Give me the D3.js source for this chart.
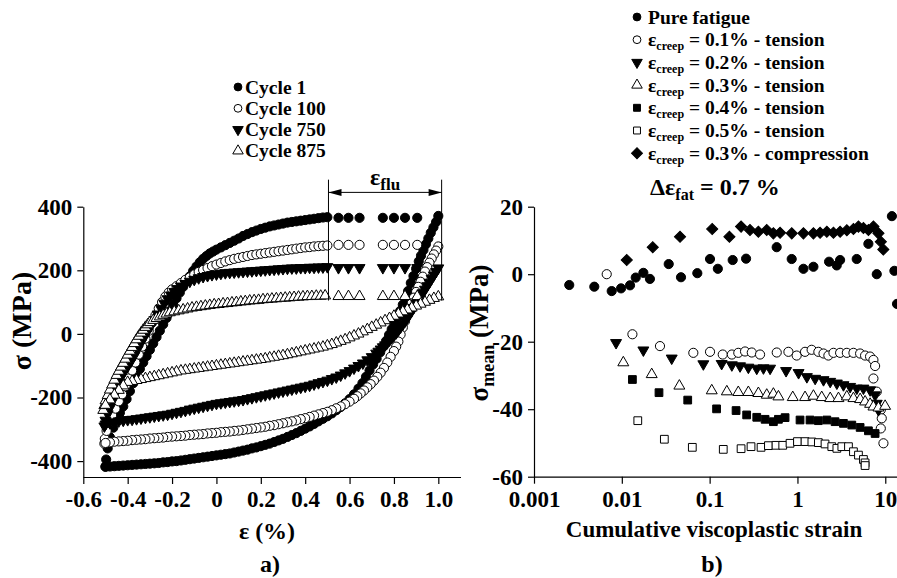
<!DOCTYPE html>
<html>
<head>
<meta charset="utf-8">
<script src="https://cdn.jsdelivr.net/npm/d3@7"></script>
<style>
  body { margin: 0; background: #fff; }
  svg text { font-family: "Liberation Serif", "Times New Roman", serif; fill: #000; font-weight: bold; }
  .axis path, .axis line { stroke: #000; stroke-width: 1.2; }
  .axis text { font-size: 23px; }
  .legend text { font-size: 19.5px; }
</style>
</head>
<body>
<svg id="chart" width="897" height="578"></svg>
<script>
// ---- panel a) : hysteresis loops, [strain %, stress MPa] ----
var cycleNames = ["Cycle 1", "Cycle 100", "Cycle 750", "Cycle 875"];

var c1Load = [[-0.5,-417],[-0.497,-395],[-0.49,-360],[-0.48,-325],[-0.465,-295],[-0.45,-270],[-0.435,-248],[-0.42,-228],[-0.405,-205],[-0.39,-180],[-0.375,-155],[-0.36,-132],[-0.345,-110],[-0.33,-90],[-0.315,-70],[-0.3,-50],[-0.285,-30],[-0.27,-10],[-0.255,10],[-0.24,30],[-0.225,50],[-0.21,72],[-0.195,92],[-0.18,112],[-0.165,130],[-0.15,148],[-0.135,165],[-0.12,181],[-0.105,198],[-0.09,212],[-0.075,225],[-0.06,236],[-0.045,245],[-0.03,253],[-0.015,259],[0,265],[0.02,272],[0.04,279],[0.06,286],[0.08,293],[0.1,300],[0.12,308],[0.14,314],[0.16,320],[0.18,325],[0.2,330],[0.22,334],[0.24,338],[0.26,341],[0.28,344],[0.3,347],[0.32,350],[0.34,352],[0.36,354],[0.38,356],[0.4,358],[0.42,360],[0.44,362],[0.46,364],[0.48,366],[0.5,367]];
var c1Unload = [[1.0,371],[0.99,352],[0.978,335],[0.966,318],[0.955,300],[0.944,282],[0.933,264],[0.922,246],[0.912,228],[0.9,205],[0.888,182],[0.876,160],[0.864,135],[0.852,112],[0.84,92],[0.828,72],[0.815,52],[0.802,33],[0.79,15],[0.778,-3],[0.765,-22],[0.752,-40],[0.738,-58],[0.722,-78],[0.706,-96],[0.69,-115],[0.674,-135],[0.658,-155],[0.64,-172],[0.62,-190],[0.6,-205],[0.58,-218],[0.56,-230],[0.54,-240],[0.52,-250],[0.5,-259],[0.48,-267],[0.46,-275],[0.44,-283],[0.42,-291],[0.4,-298],[0.38,-305],[0.36,-312],[0.34,-318],[0.32,-324],[0.3,-330],[0.28,-335],[0.26,-340],[0.24,-345],[0.22,-349],[0.2,-353],[0.18,-357],[0.16,-360],[0.14,-364],[0.12,-367],[0.1,-370],[0.08,-373],[0.06,-376],[0.04,-378],[0.02,-380],[0,-382],[-0.02,-384],[-0.04,-386],[-0.06,-388],[-0.08,-390],[-0.1,-392],[-0.12,-394],[-0.14,-396],[-0.16,-398],[-0.18,-400],[-0.2,-401],[-0.22,-403],[-0.24,-404],[-0.26,-406],[-0.28,-407],[-0.3,-408],[-0.32,-409],[-0.34,-410],[-0.36,-411],[-0.38,-412],[-0.4,-413],[-0.42,-414],[-0.44,-415],[-0.46,-416],[-0.48,-417],[-0.5,-418]];

var c100Load = [[-0.505,-345],[-0.503,-330],[-0.495,-305],[-0.485,-280],[-0.47,-255],[-0.455,-235],[-0.44,-212],[-0.425,-190],[-0.41,-165],[-0.395,-140],[-0.38,-115],[-0.365,-90],[-0.35,-65],[-0.335,-40],[-0.32,-15],[-0.305,10],[-0.29,35],[-0.275,58],[-0.26,80],[-0.245,100],[-0.23,117],[-0.215,130],[-0.2,140],[-0.18,150],[-0.16,160],[-0.14,170],[-0.12,178],[-0.1,187],[-0.08,195],[-0.06,201],[-0.04,207],[-0.02,213],[0,218],[0.02,223],[0.04,228],[0.06,232],[0.08,236],[0.1,239],[0.12,242],[0.14,245],[0.16,248],[0.18,250],[0.2,252],[0.22,254],[0.24,256],[0.26,258],[0.28,260],[0.3,262],[0.32,264],[0.34,266],[0.36,268],[0.38,270],[0.4,272],[0.42,273],[0.44,275],[0.46,276],[0.48,277],[0.5,278]];
var c100Unload = [[1.0,275],[0.99,262],[0.98,250],[0.97,237],[0.96,224],[0.95,210],[0.94,196],[0.93,180],[0.92,164],[0.91,148],[0.9,132],[0.89,114],[0.88,96],[0.87,78],[0.86,60],[0.85,40],[0.84,20],[0.83,-2],[0.82,-24],[0.81,-40],[0.8,-54],[0.785,-72],[0.77,-90],[0.755,-107],[0.74,-122],[0.725,-135],[0.71,-147],[0.695,-158],[0.68,-168],[0.665,-178],[0.65,-187],[0.635,-196],[0.62,-204],[0.6,-213],[0.58,-221],[0.56,-228],[0.54,-234],[0.52,-240],[0.5,-245],[0.48,-249],[0.46,-253],[0.44,-257],[0.42,-261],[0.4,-265],[0.38,-268],[0.36,-272],[0.34,-275],[0.32,-278],[0.3,-281],[0.28,-284],[0.26,-287],[0.24,-289],[0.22,-292],[0.2,-294],[0.18,-296],[0.16,-298],[0.14,-300],[0.12,-302],[0.1,-304],[0.08,-305],[0.06,-307],[0.04,-308],[0.02,-309],[0,-311],[-0.02,-312],[-0.04,-313],[-0.06,-315],[-0.08,-316],[-0.1,-317],[-0.12,-318],[-0.14,-320],[-0.16,-321],[-0.18,-322],[-0.2,-323],[-0.22,-324],[-0.24,-326],[-0.26,-327],[-0.28,-328],[-0.3,-329],[-0.32,-331],[-0.34,-332],[-0.36,-333],[-0.38,-334],[-0.4,-336],[-0.42,-337],[-0.44,-338],[-0.46,-339],[-0.48,-341],[-0.5,-343]];

var c750Load = [[-0.505,-290],[-0.5,-272],[-0.49,-252],[-0.48,-232],[-0.47,-212],[-0.46,-192],[-0.45,-172],[-0.44,-153],[-0.43,-136],[-0.415,-118],[-0.4,-102],[-0.385,-86],[-0.37,-68],[-0.355,-48],[-0.34,-28],[-0.325,-10],[-0.31,8],[-0.295,26],[-0.28,44],[-0.265,62],[-0.25,80],[-0.235,96],[-0.22,110],[-0.205,122],[-0.19,133],[-0.175,142],[-0.16,150],[-0.14,158],[-0.12,165],[-0.1,171],[-0.08,176],[-0.06,180],[-0.04,183],[-0.02,186],[0,188],[0.02,190],[0.04,192],[0.06,193],[0.08,194],[0.1,195],[0.12,196],[0.14,197],[0.16,198],[0.18,199],[0.2,200],[0.22,201],[0.24,202],[0.26,203],[0.28,204],[0.3,205],[0.32,206],[0.34,207],[0.36,207],[0.38,208],[0.4,208],[0.42,209],[0.44,209],[0.46,210],[0.48,210],[0.5,211]];
var c750Unload = [[1.0,207],[0.99,196],[0.98,185],[0.97,174],[0.96,162],[0.95,151],[0.94,140],[0.93,129],[0.92,118],[0.91,106],[0.9,95],[0.89,83],[0.88,72],[0.87,61],[0.86,50],[0.85,40],[0.84,30],[0.83,21],[0.82,12],[0.81,3],[0.8,-5],[0.79,-12],[0.78,-20],[0.77,-28],[0.76,-35],[0.75,-41],[0.74,-48],[0.73,-55],[0.72,-61],[0.7,-72],[0.68,-82],[0.66,-92],[0.64,-100],[0.62,-108],[0.6,-116],[0.58,-123],[0.56,-130],[0.54,-136],[0.52,-141],[0.5,-146],[0.48,-150],[0.46,-154],[0.44,-158],[0.42,-162],[0.4,-165],[0.38,-168],[0.36,-171],[0.34,-174],[0.32,-177],[0.3,-180],[0.28,-183],[0.26,-186],[0.24,-189],[0.22,-192],[0.2,-195],[0.18,-198],[0.16,-201],[0.14,-204],[0.12,-207],[0.1,-209],[0.08,-211],[0.06,-213],[0.04,-215],[0.02,-217],[0,-219],[-0.02,-222],[-0.04,-225],[-0.06,-228],[-0.08,-231],[-0.1,-234],[-0.12,-237],[-0.14,-241],[-0.16,-244],[-0.18,-247],[-0.2,-250],[-0.22,-253],[-0.24,-255],[-0.26,-257],[-0.28,-259],[-0.3,-261],[-0.32,-263],[-0.34,-265],[-0.36,-267],[-0.38,-269],[-0.4,-270],[-0.42,-272],[-0.44,-274],[-0.46,-277],[-0.48,-280],[-0.5,-284]];

var c875Load = [[-0.51,-240],[-0.505,-225],[-0.5,-210],[-0.49,-193],[-0.48,-176],[-0.47,-160],[-0.46,-145],[-0.45,-130],[-0.44,-117],[-0.43,-104],[-0.42,-92],[-0.41,-79],[-0.4,-66],[-0.39,-54],[-0.38,-42],[-0.37,-30],[-0.36,-18],[-0.35,-7],[-0.34,3],[-0.33,12],[-0.32,21],[-0.31,29],[-0.3,36],[-0.285,43],[-0.27,49],[-0.255,54],[-0.24,59],[-0.225,63],[-0.21,67],[-0.19,70],[-0.17,73],[-0.15,76],[-0.13,79],[-0.11,82],[-0.09,84],[-0.07,86],[-0.05,88],[-0.03,90],[-0.01,92],[0.01,93],[0.03,95],[0.05,96],[0.07,98],[0.09,99],[0.11,101],[0.13,102],[0.15,104],[0.17,105],[0.19,106],[0.21,108],[0.23,109],[0.25,110],[0.27,111],[0.29,112],[0.31,113],[0.33,114],[0.35,115],[0.37,116],[0.39,117],[0.41,118],[0.43,118],[0.45,119],[0.47,119],[0.49,120]];
var c875Unload = [[1.0,117],[0.98,112],[0.96,106],[0.94,100],[0.92,94],[0.9,88],[0.88,82],[0.86,76],[0.84,70],[0.82,63],[0.8,56],[0.78,49],[0.76,42],[0.74,35],[0.72,28],[0.7,21],[0.68,14],[0.66,7],[0.64,0],[0.62,-6],[0.6,-12],[0.58,-18],[0.56,-23],[0.54,-28],[0.52,-33],[0.5,-37],[0.48,-41],[0.46,-44],[0.44,-47],[0.42,-50],[0.4,-53],[0.38,-56],[0.36,-59],[0.34,-62],[0.32,-65],[0.3,-68],[0.28,-70],[0.26,-73],[0.24,-75],[0.22,-78],[0.2,-80],[0.18,-82],[0.16,-84],[0.14,-86],[0.12,-88],[0.1,-90],[0.08,-92],[0.06,-94],[0.04,-96],[0.02,-98],[0,-100],[-0.02,-102],[-0.04,-104],[-0.06,-106],[-0.08,-108],[-0.1,-110],[-0.12,-112],[-0.14,-114],[-0.16,-116],[-0.18,-119],[-0.2,-122],[-0.22,-125],[-0.24,-128],[-0.26,-131],[-0.28,-134],[-0.3,-137],[-0.32,-140],[-0.34,-143],[-0.36,-146],[-0.38,-149],[-0.4,-152],[-0.42,-163],[-0.44,-177],[-0.46,-192],[-0.48,-207],[-0.5,-224]];

// creep (flu) segment: same strains for every cycle, stress per cycle
var holdStrain = [0.55, 0.595, 0.645, 0.75, 0.8, 0.85, 0.905];
var holdStress = [365, 280, 208, 118];
var fluRange = [0.505, 1.015];

var leftXTicks = [-0.6, -0.4, -0.2, 0, 0.2, 0.4, 0.6, 0.8, 1.0];
var leftXLabels = ["-0.6", "-0.4", "-0.2", "0", "0.2", "0.4", "0.6", "0.8", "1.0"];
var leftYTicks = [-400, -200, 0, 200, 400];

// ---- panel b) : mean stress vs cumulative viscoplastic strain ----
var seriesNames = ["Pure fatigue", "0.1% - tension", "0.2% - tension", "0.3% - tension", "0.4% - tension", "0.5% - tension", "0.3% - compression"];

var pureFatigue = [[0.00252,-3.2],[0.00486,-3.7],[0.00767,-5.0],[0.0098,-4.2],[0.0124,-3.3],[0.0144,-1.0],[0.0176,0.4],[0.0209,-1.4],[0.0342,3.0],[0.0472,-0.9],[0.0724,0.3],[0.101,4.5],[0.124,1.6],[0.183,4.2],[0.26,4.6],[0.58,8.0],[0.86,4.5],[1.17,1.6],[1.52,2.2],[2.29,3.7],[2.8,2.6],[3.06,4.2],[4.73,4.5],[6.42,9.0],[8.0,0],[11.9,17.2],[12.7,1.0],[13.6,-8.8]];
var tension01 = [[0.00673,0],[0.0132,-17.8],[0.0272,-21.3],[0.0652,-23.3],[0.101,-23.0],[0.141,-23.8],[0.179,-23.8],[0.212,-23.3],[0.253,-22.9],[0.302,-23.2],[0.375,-23.8],[0.581,-23.2],[0.789,-23.0],[0.98,-24.1],[1.22,-23.0],[1.45,-22.4],[1.73,-23.0],[1.98,-23.5],[2.25,-24.1],[2.57,-23.3],[3.06,-23.3],[3.65,-23.3],[4.34,-23.3],[5.17,-23.5],[5.89,-24.1],[6.71,-24.4],[7.33,-25.4],[7.66,-27.2],[7.33,-30.9],[8.0,-34.8],[8.89,-40.2],[9.12,-42.7],[8.89,-45.7],[9.53,-50.1]];
var tension02 = [[0.0086,-20.3],[0.0176,-22.5],[0.037,-24.9],[0.0848,-26.6],[0.137,-26.5],[0.179,-26.9],[0.222,-27.2],[0.276,-27.6],[0.344,-27.9],[0.41,-27.8],[0.488,-27.9],[0.742,-28.6],[1.03,-29.2],[1.28,-30.4],[1.59,-30.9],[1.98,-31.3],[2.36,-31.8],[2.81,-32.3],[3.34,-32.8],[3.98,-33.3],[4.74,-33.8],[5.64,-33.8],[6.72,-34.3],[7.66,-35.8],[8.0,-38.3],[8.36,-40.2]];
var tension03 = [[0.0104,-26.2],[0.0219,-29.7],[0.0452,-33.1],[0.1057,-34.5],[0.157,-34.8],[0.212,-35.0],[0.276,-35.0],[0.359,-35.3],[0.447,-35.8],[0.532,-35.5],[0.607,-36.3],[0.884,-36.5],[1.22,-36.5],[1.52,-36.1],[1.89,-36.5],[2.36,-36.8],[2.93,-36.8],[3.65,-36.3],[4.34,-36.8],[5.17,-37.1],[5.89,-37.8],[6.72,-38.5],[7.33,-39.3],[8.36,-39.6],[9.96,-39.1]];
var tension04 = [[0.0132,-31.2],[0.0265,-35.1],[0.0563,-37.3],[0.12,-39.9],[0.2,-40.4],[0.264,-41.7],[0.344,-42.4],[0.428,-43.0],[0.532,-43.7],[0.607,-43.0],[0.723,-42.5],[1.07,-43.2],[1.39,-43.2],[1.73,-43.4],[2.16,-43.2],[2.68,-43.7],[3.34,-44.2],[4.16,-44.7],[5.17,-45.4],[6.43,-46.4],[7.66,-47.2]];
var tension05 = [[0.0152,-43.4],[0.0305,-48.9],[0.0635,-51.3],[0.143,-51.9],[0.228,-51.7],[0.296,-51.1],[0.385,-51.3],[0.467,-50.8],[0.57,-50.7],[0.68,-50.7],[0.823,-50.1],[1.0,-49.6],[1.22,-49.6],[1.46,-49.7],[1.73,-49.9],[2.06,-50.3],[2.46,-51.1],[2.81,-51.6],[3.2,-51.1],[3.81,-51.1],[4.34,-52.6],[4.95,-53.6],[5.64,-54.9],[5.89,-55.9],[5.89,-56.7]];
var compression03 = [[0.01138,4.2],[0.0225,8.0],[0.046,11.1],[0.107,13.4],[0.168,11.1],[0.228,14.1],[0.288,13.1],[0.359,12.6],[0.447,13.1],[0.532,12.1],[0.634,12.3],[0.861,12.1],[1.17,12.1],[1.52,12.1],[1.81,12.3],[2.16,12.6],[2.57,12.3],[3.06,12.6],[3.65,13.0],[4.34,13.4],[4.95,14.1],[5.64,13.7],[6.43,13.1],[7.33,14.1],[8.36,12.1],[8.9,9.6],[9.5,7.3]];

var rightXTicks = [0.001, 0.01, 0.1, 1, 10];
var rightXLabels = ["0.001", "0.01", "0.1", "1", "10"];
var rightYTicks = [20, 0, -20, -40, -60];

// ---- setup ----
var svg = d3.select("#chart");

var xL = d3.scaleLinear().domain([-0.6, 1.1]).range([83.3, 460.5]);
var yL = d3.scaleLinear().domain([-450, 400]).range([477, 206.7]);

var xR = d3.scaleLog().domain([0.001, 13.6]).range([534, 897]);
var yR = d3.scaleLinear().domain([-60, 20]).range([476.7, 206.7]);

function symbolPath(kind, size) {
    var map = {
        circle: d3.symbolCircle,
        triUp: d3.symbolTriangle,
        triDown: d3.symbolTriangle,
        square: d3.symbolSquare,
        diamond: d3.symbolSquare
    };
    return d3.symbol(map[kind], size)();
}

function symbolRotation(kind) {
    if (kind === "triDown") return " rotate(180)";
    if (kind === "diamond") return " rotate(45)";
    return "";
}

var shapeSize = { circle: 66, triUp: 52, triDown: 52, square: 60, diamond: 62 };

function drawMarkers(g, data, x, y, kind, filled) {
    g.selectAll(null)
        .data(data)
        .enter()
        .append("path")
        .attr("d", symbolPath(kind, shapeSize[kind]))
        .attr("transform", d => "translate(" + x(d[0]) + "," + y(d[1]) + ")" + symbolRotation(kind))
        .attr("fill", filled ? "#000" : "#fff")
        .attr("stroke", "#000")
        .attr("stroke-width", 1);
}

// ---- panel a) ----
var cycleStyle = [
    { kind: "circle", filled: true },
    { kind: "circle", filled: false },
    { kind: "triDown", filled: true },
    { kind: "triUp", filled: false }
];
var cycleData = [
    [c1Load, c1Unload], [c100Load, c100Unload], [c750Load, c750Unload], [c875Load, c875Unload]
];

// axes
var leftX = d3.axisBottom(xL)
    .tickValues(leftXTicks)
    .tickFormat((d, i) => leftXLabels[i])
    .tickSize(7).tickSizeOuter(0).tickPadding(7);
svg.append("g").attr("class", "axis")
    .attr("transform", "translate(0," + yL(-450) + ")")
    .call(leftX);

var leftY = d3.axisLeft(yL)
    .tickValues(leftYTicks)
    .tickFormat(d => String(d))
    .tickSize(6).tickSizeOuter(0).tickPadding(5);
svg.append("g").attr("class", "axis")
    .attr("transform", "translate(" + xL(-0.6) + ",0)")
    .call(leftY);

var gA = svg.append("g");
cycleData.forEach(function(branches, i) {
    var st = cycleStyle[i];
    var hold = holdStrain.map(s => [s, holdStress[i]]);
    drawMarkers(gA, branches[0], xL, yL, st.kind, st.filled);
    drawMarkers(gA, hold, xL, yL, st.kind, st.filled);
    drawMarkers(gA, branches[1], xL, yL, st.kind, st.filled);
});

// eps_flu bracket
var fluTop = 485, fluBottom = 105, fluArrow = 445;
fluRange.forEach(function(s) {
    svg.append("line")
        .attr("x1", xL(s)).attr("x2", xL(s))
        .attr("y1", yL(fluTop)).attr("y2", yL(fluBottom))
        .attr("stroke", "#000").attr("stroke-width", 1);
});
svg.append("line")
    .attr("x1", xL(fluRange[0])).attr("x2", xL(fluRange[1]))
    .attr("y1", yL(fluArrow)).attr("y2", yL(fluArrow))
    .attr("stroke", "#000").attr("stroke-width", 1);
[[fluRange[0], 1], [fluRange[1], -1]].forEach(function(a) {
    var x0 = xL(a[0]), y0 = yL(fluArrow), dir = a[1];
    svg.append("path")
        .attr("d", "M" + x0 + "," + y0 + "L" + (x0 + dir * 13) + "," + (y0 - 3.5) + "L" + (x0 + dir * 13) + "," + (y0 + 3.5) + "Z")
        .attr("fill", "#000");
});
var fluLabel = svg.append("text")
    .attr("x", (xL(fluRange[0]) + xL(fluRange[1])) / 2)
    .attr("y", yL(fluArrow) - 7)
    .attr("text-anchor", "middle")
    .style("font-size", "24px");
fluLabel.append("tspan").text("ε");
fluLabel.append("tspan").attr("dy", 5).style("font-size", "17px").text("flu");

// legend a)
var legA = svg.append("g").attr("class", "legend");
cycleNames.forEach(function(name, i) {
    var yy = 87 + i * 21.3;
    var st = cycleStyle[i];
    legA.append("path")
        .attr("d", symbolPath(st.kind, 48))
        .attr("transform", "translate(238," + yy + ")" + symbolRotation(st.kind))
        .attr("fill", st.filled ? "#000" : "#fff")
        .attr("stroke", "#000");
    legA.append("text").attr("x", 245).attr("y", yy + 6.5).text(name);
});

// axis titles a)
svg.append("text")
    .attr("transform", "translate(31,321) rotate(-90)")
    .attr("text-anchor", "middle")
    .style("font-size", "28px")
    .text("σ (MPa)");
svg.append("text")
    .attr("x", 267).attr("y", 539)
    .attr("text-anchor", "middle")
    .style("font-size", "24px")
    .text("ε (%)");
svg.append("text")
    .attr("x", 270).attr("y", 572)
    .attr("text-anchor", "middle")
    .style("font-size", "24px")
    .text("a)");

// ---- panel b) ----
var rightX = d3.axisBottom(xR)
    .tickValues(rightXTicks)
    .tickFormat((d, i) => rightXLabels[i])
    .tickSize(7).tickSizeOuter(0).tickPadding(7);
svg.append("g").attr("class", "axis")
    .attr("transform", "translate(0," + yR(-60) + ")")
    .call(rightX);

var rightY = d3.axisLeft(yR)
    .tickValues(rightYTicks)
    .tickFormat(d => String(d))
    .tickSize(6).tickSizeOuter(0).tickPadding(5);
svg.append("g").attr("class", "axis")
    .attr("transform", "translate(" + xR(0.001) + ",0)")
    .call(rightY);

var seriesStyle = [
    { kind: "circle", filled: true },
    { kind: "circle", filled: false },
    { kind: "triDown", filled: true },
    { kind: "triUp", filled: false },
    { kind: "square", filled: true },
    { kind: "square", filled: false },
    { kind: "diamond", filled: true }
];
var seriesData = [pureFatigue, tension01, tension02, tension03, tension04, tension05, compression03];

var gB = svg.append("g");
seriesData.forEach(function(d, i) {
    drawMarkers(gB, d, xR, yR, seriesStyle[i].kind, seriesStyle[i].filled);
});

// legend b)
var legB = svg.append("g").attr("class", "legend");
seriesNames.forEach(function(name, i) {
    var yy = 17 + i * 22.7;
    var st = seriesStyle[i];
    legB.append("path")
        .attr("d", symbolPath(st.kind, st.kind === "diamond" ? 60 : 48))
        .attr("transform", "translate(637," + yy + ")" + symbolRotation(st.kind))
        .attr("fill", st.filled ? "#000" : "#fff")
        .attr("stroke", "#000");
    var t = legB.append("text").attr("x", 648).attr("y", yy + 6.5);
    if (i === 0) {
        t.text(name);
    } else {
        t.append("tspan").text("ε");
        t.append("tspan").attr("dy", 4).style("font-size", "12px").text("creep");
        t.append("tspan").attr("dy", -4).text(" = " + name);
    }
});

var fat = svg.append("text")
    .attr("x", 650).attr("y", 195)
    .style("font-size", "24px");
fat.append("tspan").text("Δε");
fat.append("tspan").attr("dy", 5).style("font-size", "16px").text("fat");
fat.append("tspan").attr("dy", -5).text(" = 0.7 %");

svg.append("text")
    .attr("transform", "translate(488,333) rotate(-90)")
    .attr("text-anchor", "middle")
    .style("font-size", "27px")
    .call(function(t) {
        t.append("tspan").text("σ");
        t.append("tspan").attr("dy", 6).style("font-size", "18px").text("mean");
        t.append("tspan").attr("dy", -6).text(" (MPa)");
    });

svg.append("text")
    .attr("x", 714).attr("y", 537)
    .attr("text-anchor", "middle")
    .style("font-size", "23px")
    .text("Cumulative viscoplastic strain");
svg.append("text")
    .attr("x", 712).attr("y", 572)
    .attr("text-anchor", "middle")
    .style("font-size", "24px")
    .text("b)");
</script>
</body>
</html>
